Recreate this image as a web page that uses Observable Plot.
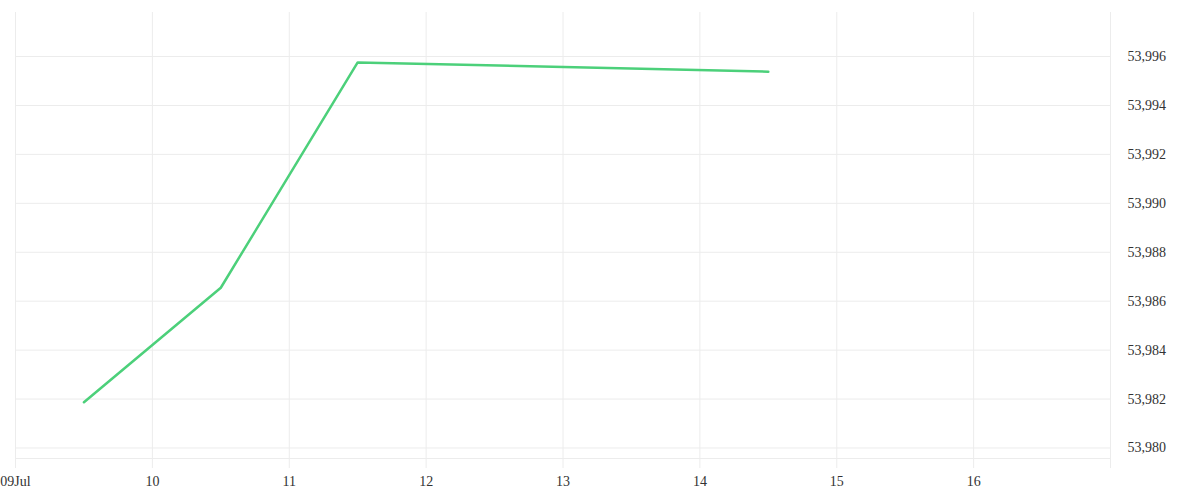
<!DOCTYPE html>
<html>
<head>
<meta charset="utf-8">
<script src="https://cdn.jsdelivr.net/npm/d3@7"></script>
<script src="https://cdn.jsdelivr.net/npm/@observablehq/plot@0.6"></script>
<style>
  html, body { margin: 0; padding: 0; background: #fff; }
  #chart svg { display: block; }
</style>
</head>
<body>
<div id="chart"></div>
<script>
// Data
const dates = ["2024-07-09T12:00Z", "2024-07-10T12:00Z", "2024-07-11T12:00Z", "2024-07-14T12:00Z"];
const values = [53981.87, 53986.55, 53995.76, 53995.38];
const xTickDates = ["2024-07-09", "2024-07-10", "2024-07-11", "2024-07-12", "2024-07-13", "2024-07-14", "2024-07-15", "2024-07-16", "2024-07-17"];
const xTickLabels = ["09Jul", "10", "11", "12", "13", "14", "15", "16", ""];
const yTicks = [53980, 53982, 53984, 53986, 53988, 53990, 53992, 53994, 53996];
const yDomain = [53979.57, 53997.8];
const xDomain = ["2024-07-09", "2024-07-17"];

const data = dates.map((d, i) => ({date: new Date(d), value: values[i]}));
const xTicks = xTickDates.map(d => new Date(d + "T00:00Z"));
const labelOf = new Map(xTicks.map((d, i) => [+d, xTickLabels[i]]));
const fmt = d3.format(",");

const chart = Plot.plot({
  width: 1200,
  height: 500,
  marginTop: 12,
  marginBottom: 42,
  marginLeft: 15,
  marginRight: 90,
  style: {fontFamily: "'Liberation Serif', serif", fontSize: "14px", color: "#333", background: "#fff"},
  x: {type: "utc", domain: xDomain.map(d => new Date(d + "T00:00Z"))},
  y: {domain: yDomain},
  marks: [
    Plot.ruleY(yTicks, {stroke: "#ececec", strokeWidth: 1}),
    Plot.ruleY([yDomain[0]], {stroke: "#ececec", strokeWidth: 1}),
    Plot.ruleX(xTicks, {stroke: "#ececec", strokeWidth: 1}),
    Plot.axisX({ticks: xTicks, tickSize: 10, tickPadding: 8, stroke: "#ececec", fill: "#333",
      tickFormat: d => labelOf.get(+d) ?? "", fontSize: 14}),
    Plot.axisY({anchor: "right", ticks: yTicks, tickSize: 0, tickPadding: 17, fill: "#333",
      tickFormat: fmt, fontSize: 14, label: null}),
    Plot.line(data, {x: "date", y: "value", stroke: "#4cd07a", strokeWidth: 2.5})
  ]
});
document.getElementById("chart").append(chart);
</script>
</body>
</html>
